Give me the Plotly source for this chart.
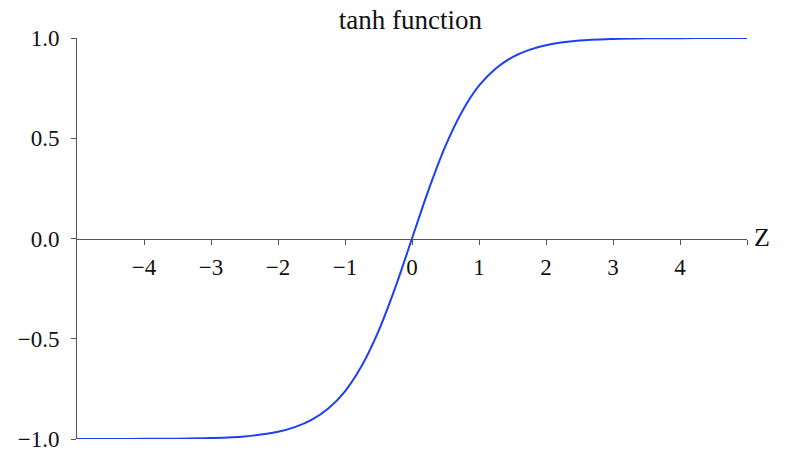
import plotly.graph_objects as go

z_values = [-5.0, -4.5, -4.0, -3.5, -3.0, -2.5, -2.0, -1.75, -1.5, -1.25, -1.0, -0.75, -0.5, -0.25, 0.0,
            0.25, 0.5, 0.75, 1.0, 1.25, 1.5, 1.75, 2.0, 2.5, 3.0, 3.5, 4.0, 4.5, 5.0]
tanh_values = [-0.9999, -0.9998, -0.9993, -0.9982, -0.995, -0.987, -0.964, -0.941, -0.905, -0.848, -0.762,
               -0.635, -0.462, -0.245, 0.0, 0.245, 0.462, 0.635, 0.762, 0.848, 0.905, 0.941, 0.964,
               0.987, 0.995, 0.9982, 0.9993, 0.9998, 0.9999]

x_tick_vals = [-4, -3, -2, -1, 0, 1, 2, 3, 4, 5]
x_tick_text = ["−4", "−3", "−2", "−1", "0", "1", "2", "3", "4", ""]
y_tick_vals = [-1.0, -0.5, 0.0, 0.5, 1.0]
y_tick_text = ["−1.0", "−0.5", "0.0", "0.5", "1.0"]

FONT = "Liberation Serif"
AXIS_COLOR = "#555555"
TEXT_COLOR = "#111111"

fig = go.Figure()
fig.add_trace(go.Scatter(
    x=z_values, y=tanh_values, mode="lines",
    line=dict(color="#1c3ff5", width=2, shape="spline", smoothing=0.8),
    showlegend=False, hoverinfo="skip",
))

fig.update_layout(
    width=797, height=455,
    margin=dict(l=77, r=50, t=38, b=16, autoexpand=False),
    paper_bgcolor="white", plot_bgcolor="white",
    font=dict(family=FONT, size=23, color=TEXT_COLOR),
    title=dict(text="tanh function", x=0.515, xanchor="center", y=0.958, yanchor="middle",
               font=dict(family=FONT, size=27, color=TEXT_COLOR), automargin=False),
    xaxis=dict(
        range=[-5, 5], anchor="free", position=0.5, automargin=False,
        showgrid=False, zeroline=False,
        showline=True, linecolor=AXIS_COLOR, linewidth=1,
        ticks="outside", ticklen=5, tickcolor=AXIS_COLOR, tickwidth=1,
        tickvals=x_tick_vals, ticktext=x_tick_text, ticklabelstandoff=3,
        tickfont=dict(family=FONT, size=23, color=TEXT_COLOR),
    ),
    yaxis=dict(
        range=[-1, 1], automargin=False,
        showgrid=False, zeroline=False,
        showline=True, linecolor=AXIS_COLOR, linewidth=1,
        ticks="outside", ticklen=5, tickcolor=AXIS_COLOR, tickwidth=1,
        tickvals=y_tick_vals, ticktext=y_tick_text, ticklabelstandoff=7,
        tickfont=dict(family=FONT, size=23, color=TEXT_COLOR),
    ),
    annotations=[dict(
        x=5, y=0, xref="x", yref="y", text="Z", showarrow=False,
        xanchor="left", yanchor="middle", xshift=5, yshift=1,
        font=dict(family=FONT, size=26, color=TEXT_COLOR),
    )],
)

fig.write_html("out.html", config={"displayModeBar": False},
               post_script="document.body.style.margin='0';")
